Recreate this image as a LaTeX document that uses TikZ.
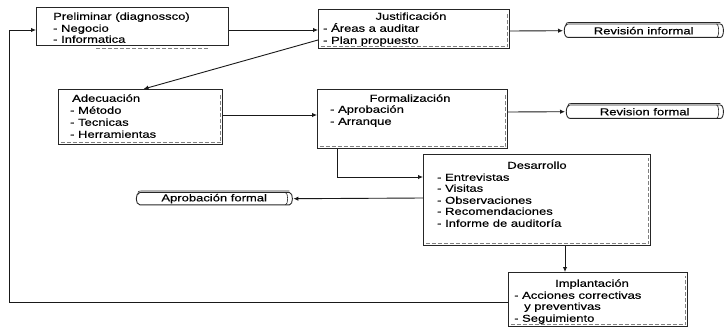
\documentclass[tikz,border=0pt]{standalone}
\usepackage{fontspec}
\setmainfont{Liberation Sans}[FakeStretch=1.3,FakeBold=0.4]
\usetikzlibrary{arrows.meta,calc}
\tikzset{
  box/.style={draw=black!85, line width=1.1pt, anchor=north west, inner sep=0pt},
  innerdash/.style={draw=black!50, line width=0.45pt, dash pattern=on 4pt off 2pt},
  txt/.style={anchor=west, inner sep=0pt, text height=7.5pt, text depth=2pt, font=\fontsize{10}{12}\selectfont},
  ctxt/.style={txt, anchor=center},
  conn/.style={draw=black!90, line width=0.9pt},
  arr/.style={conn, -{Latex[length=5pt,width=4.5pt]}},
  scrollnode/.style={anchor=north west, inner sep=0pt, font=\fontsize{10}{11}\selectfont},
  scrollline/.style={draw=black!85, line width=0.9pt},
}
\newcommand\drawinner[1]{\draw[innerdash] ([shift={(2.5pt,2.5pt)}]#1.south west) -- ([shift={(-2.5pt,2.5pt)}]#1.south east) -- ([shift={(-2.5pt,-4pt)}]#1.north east);}
\newcommand\drawscroll[1]{%
  \draw[scrollline] ([xshift=5pt]#1.north west) -- ([xshift=-4pt]#1.north east)
    .. controls (#1.north east) and (#1.south east) .. ([xshift=-4pt]#1.south east)
    -- ([xshift=5pt]#1.south west)
    .. controls (#1.south west) and (#1.north west) .. ([xshift=5pt]#1.north west);
  \draw[scrollline, line width=0.6pt] ([xshift=-8pt]#1.north east) .. controls ([xshift=-5pt]#1.north east) and ([xshift=-5pt]#1.south east) .. ([xshift=-8pt]#1.south east);
  \draw[scrollline, line width=0.6pt] ([xshift=3pt,yshift=-2pt]#1.north west) .. controls ([xshift=3pt,yshift=1.5pt]#1.north west) .. ([xshift=8pt,yshift=1.5pt]#1.north west) -- ([xshift=-4pt,yshift=1.5pt]#1.north east);
}
\begin{document}
\begin{tikzpicture}[x=1pt,y=-1pt]
\useasboundingbox (0,0) rectangle (725,327);

% boxes
\node[box, minimum width=192pt, minimum height=38pt] (prel) at (36,7) {};
\node[box, minimum width=191pt, minimum height=39pt] (just) at (318,9) {};
\node[box, minimum width=164pt, minimum height=55pt] (adec) at (58,89) {};
\node[box, minimum width=190pt, minimum height=59pt] (form) at (317,89) {};
\node[box, minimum width=227pt, minimum height=91pt] (desa) at (423,154) {};
\node[box, minimum width=179pt, minimum height=54pt] (impl) at (508,272) {};
\draw[innerdash] ([shift={(60pt,-2pt)}]prel.south west) -- ([shift={(-20pt,-2pt)}]prel.south east);
\drawinner{just}\drawinner{adec}\drawinner{form}\drawinner{desa}\drawinner{impl}

% scrolls
\node[scrollnode, minimum width=161pt, minimum height=13pt] (reinf) at (563,24) {Revisión informal};
\node[scrollnode, minimum width=159pt, minimum height=13pt] (refor) at (565,105) {Revision formal};
\node[scrollnode, minimum width=158pt, minimum height=12pt] (apfor) at (135,192.5) {Aprobación formal};
\drawscroll{reinf}\drawscroll{refor}\drawscroll{apfor}

% texts
\node[txt] (p1) at (53,17) {Preliminar (diagnossco)};
\node[txt] (p2) at (53,29) {- Negocio};
\node[txt] (p3) at (53,40) {- Informatica};

\node[ctxt] (j1) at (411,17) {Justificación};
\node[txt] (j2) at (323,29) {- Áreas a auditar};
\node[txt] (j3) at (323,41) {- Plan propuesto};

\node[txt] (a1) at (72,99) {Adecuación};
\node[txt] (a2) at (70,111) {- Método};
\node[txt] (a3) at (70,123) {- Tecnicas};
\node[txt] (a4) at (70,135) {- Herramientas};

\node[ctxt] (f1) at (410,99) {Formalización};
\node[txt] (f2) at (330,110) {- Aprobación};
\node[txt] (f3) at (330,122) {- Arranque};

\node[ctxt] (d1) at (537,166) {Desarrollo};
\node[txt] (d2) at (437,178) {- Entrevistas};
\node[txt] (d3) at (437,189) {- Visitas};
\node[txt] (d4) at (437,201) {- Observaciones};
\node[txt] (d5) at (437,212) {- Recomendaciones};
\node[txt] (d6) at (437,224) {- Informe de auditoría};

\node[ctxt] (i1) at (592,284) {Implantación};
\node[txt] (i2) at (514,296) {- Acciones correctivas};
\node[txt] (i3) at (524,307) {y preventivas};
\node[txt] (i4) at (514,319) {- Seguimiento};

% connectors
\draw[arr] ([yshift=-23pt]prel.north east) -- ([yshift=-21pt]just.north west);
\draw[arr] ([yshift=-22pt]just.north east) -- (reinf.west);
\draw[arr] ([yshift=-31pt]just.north west) -- ([xshift=3pt]adec.north);
\draw[arr] ([yshift=-26pt]adec.north east) -- ([yshift=-26pt]form.north west);
\draw[arr] ([yshift=-23pt]form.north east) -- (refor.west);
\draw[arr] ([xshift=20pt]form.south west) |- ([yshift=-23pt]desa.north west);
\draw[arr] ([yshift=-44pt]desa.north west) -- (apfor.east);
\draw[arr] ([xshift=142pt]desa.south west) -- ([xshift=57pt]impl.north west);
\coordinate (fbA) at (9,302);
\coordinate (fbB) at (9,30);
\draw[arr] ([yshift=-30pt]impl.north west) -- (fbA) -- (fbB) -- ([yshift=-23pt]prel.north west);
\end{tikzpicture}
\end{document}
